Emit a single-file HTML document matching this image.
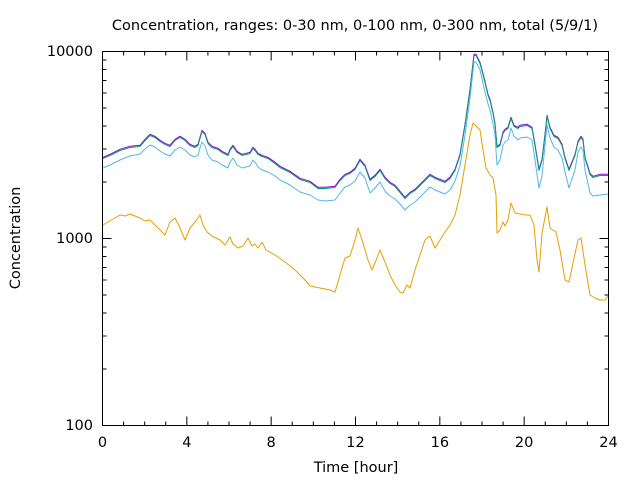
<!DOCTYPE html>
<html><head><style>
html,body{margin:0;padding:0;background:#fff}
svg{display:block}
text{font-family:"DejaVu Sans","Liberation Sans",sans-serif;font-size:14.5px;fill:#000}
</style></head><body>
<svg width="640" height="480" viewBox="0 0 640 480">
<rect width="640" height="480" fill="#fff"/>
<text x="355" y="30" text-anchor="middle">Concentration, ranges: 0-30 nm, 0-100 nm, 0-300 nm, total (5/9/1)</text>
<g stroke="#000" stroke-width="1" fill="none">
<path d="
M102.5 425.5h9 M608.5 425.5h-9
M102.5 238.5h9 M608.5 238.5h-9
M102.5 51.5h9 M608.5 51.5h-9
M102.5 369h4 M608.5 369h-4 M102.5 336h4 M608.5 336h-4 M102.5 313h4 M608.5 313h-4 M102.5 295h4 M608.5 295h-4 M102.5 280h4 M608.5 280h-4 M102.5 267.5h4 M608.5 267.5h-4 M102.5 256.5h4 M608.5 256.5h-4 M102.5 247h4 M608.5 247h-4
M102.5 182h4 M608.5 182h-4 M102.5 149h4 M608.5 149h-4 M102.5 126h4 M608.5 126h-4 M102.5 108h4 M608.5 108h-4 M102.5 93h4 M608.5 93h-4 M102.5 80.5h4 M608.5 80.5h-4 M102.5 69.5h4 M608.5 69.5h-4 M102.5 60h4 M608.5 60h-4"/>
</g>
<g id="xt" stroke="#000" stroke-width="1"></g>
<rect x="102.5" y="51.5" width="506" height="374" fill="none" stroke="#000" stroke-width="1"/>
<g text-anchor="end">
<text x="93" y="430">100</text>
<text x="93" y="243">1000</text>
<text x="93" y="56">10000</text>
</g>
<g text-anchor="middle" id="xl"></g>
<text x="356" y="472" text-anchor="middle">Time [hour]</text>
<text transform="translate(20,238) rotate(-90)" text-anchor="middle">Concentration</text>
<g fill="none" stroke-width="1" stroke-linejoin="round">
<polyline id="p1" stroke="#9400d3"/>
<polyline id="p2" stroke="#009e73"/>
<polyline id="p3" stroke="#56b4e9"/>
<polyline id="p4" stroke="#e69f00"/>
</g>
</svg>
<script>
(function(){
var ns="http://www.w3.org/2000/svg";
var xt=document.getElementById('xt'),xl=document.getElementById('xl');
for(var h=0;h<=24;h++){var x=102.5+h*21.083;var L=(h%4==0)?9:4;
var p=document.createElementNS(ns,'path');p.setAttribute('d','M'+x+' 425.5v-'+L+'M'+x+' 51.5v'+L);xt.appendChild(p);
if(h%4==0){var t=document.createElementNS(ns,'text');t.setAttribute('x',x);t.setAttribute('y',447);t.textContent=h;xl.appendChild(t);}}
var topl=[[103,158],[110,155],[120,150],[130,147],[140,146],[145,140],[150,135],[155,137],[160,141],[165,144],[170,146],[175,140],[180,137],[185,140],[190,145],[195,147],[198,145],[200,138],[202,131],[205,134],[208,143],[212,147],[218,149],[222,152],[228,155],[230,150],[233,146],[237,152],[242,155],[250,153],[253,148],[255,150],[258,154],[262,156],[268,158],[275,163],[280,167],[290,172],[300,179],[310,182],[318,188],[325,188],[335,187],[340,180],[345,175],[350,173],[355,169],[360,160],[365,166],[370,180],[375,176],[380,170],[385,178],[390,183],[395,186],[400,192],[405,198],[410,193],[415,190],[420,185],[425,180],[430,175],[435,178],[440,180],[445,182],[450,178],[455,170],[460,155],[465,125],[470,90],[474,55],[476,55],[480,63],[485,82],[488,95],[490,100],[493,113],[495,124],[497,147],[500,145],[503,133],[505,130],[508,128],[511,118],[514,126],[518,128],[520,126],[527,125],[532,128],[535,145],[539,170],[542,160],[545,135],[547,116],[550,128],[554,136],[558,138],[562,145],[565,158],[569,170],[575,155],[578,142],[581,137],[583,140],[585,158],[590,174],[593,177],[600,175],[608,175]];
var blue=[[103,168],[110,165],[120,160],[130,156],[140,154],[145,149],[150,145],[155,147],[160,151],[165,154],[170,156],[175,150],[180,147],[185,150],[190,155],[195,157],[198,155],[200,148],[202,142],[205,146],[208,155],[212,160],[218,162],[222,165],[228,168],[230,162],[233,158],[237,165],[242,168],[250,166],[253,160],[255,162],[258,167],[262,170],[268,172],[275,176],[280,180],[290,185],[300,192],[310,195],[318,200],[325,201],[335,200],[340,193],[345,187],[350,185],[355,181],[360,172],[365,178],[370,193],[375,188],[380,182],[385,191],[390,196],[395,199],[400,204],[405,210],[410,205],[415,202],[420,197],[425,192],[430,187],[435,190],[440,192],[445,194],[450,190],[455,181],[460,166],[465,135],[470,98],[474,62],[476,62],[480,70],[485,92],[488,104],[490,110],[493,124],[495,135],[497,165],[500,160],[503,145],[505,142],[508,140],[511,128],[514,136],[518,140],[520,138],[527,137],[532,140],[535,160],[539,188],[542,176],[545,145],[547,125],[550,138],[554,147],[558,150],[562,158],[565,172],[569,188],[575,170],[578,152],[581,147],[583,150],[585,170],[590,193],[593,196],[600,195],[608,194]];
var org=[[103,225],[108,222],[115,218],[120,215],[125,216],[130,214],[140,218],[145,221],[150,220],[160,230],[165,235],[170,222],[175,218],[180,228],[185,240],[190,228],[195,222],[200,215],[203,225],[207,232],[212,236],[220,240],[225,245],[230,237],[233,244],[238,248],[243,246],[248,238],[252,246],[255,244],[258,248],[262,242],[266,250],[275,255],[285,262],[295,270],[305,280],[310,286],[320,288],[330,290],[335,292],[340,275],[345,258],[350,256],[355,240],[358,228],[362,240],[368,260],[372,270],[377,258],[380,250],[385,262],[390,275],[395,285],[400,292],[403,293],[407,285],[410,288],[415,270],[420,255],[425,240],[430,236],[435,248],[440,240],[445,232],[450,225],[455,215],[460,195],[465,165],[470,135],[473,123],[478,128],[480,130],[483,150],[486,168],[490,175],[493,178],[496,195],[497,233],[500,230],[503,222],[505,226],[508,220],[511,203],[515,213],[520,214],[525,215],[530,215],[534,225],[537,260],[539,272],[542,233],[547,207],[550,228],[556,232],[560,250],[565,280],[569,282],[574,258],[578,240],[581,238],[585,265],[590,295],[595,298],[600,300],[605,300],[608,296]];
function pts(a,dy){return a.map(function(p){return p[0]+','+(p[1]+dy)}).join(' ')}
document.getElementById('p1').setAttribute('points',pts(topl,-0.7));
document.getElementById('p2').setAttribute('points',pts(topl,0.5));
document.getElementById('p3').setAttribute('points',pts(blue,0));
document.getElementById('p4').setAttribute('points',pts(org,0));
})();
</script>
</body></html>
